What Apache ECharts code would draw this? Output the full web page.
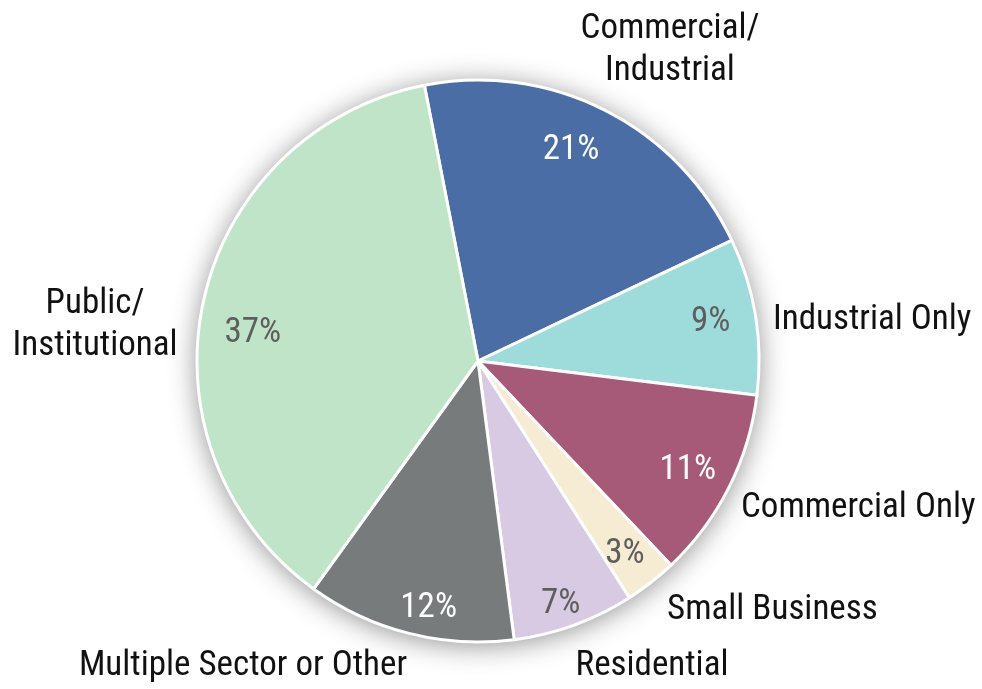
<!DOCTYPE html>
<html><head><meta charset="utf-8">
<script src="https://cdn.jsdelivr.net/npm/echarts@6/dist/echarts.min.js"></script>
<style>html,body{margin:0;padding:0;background:#fff}#c{width:982px;height:689px}</style>
</head><body><div id="c"></div>
<script>
const categories = ['Commercial/\nIndustrial', 'Industrial Only', 'Commercial Only', 'Small Business', 'Residential', 'Multiple Sector or Other', 'Public/\nInstitutional'];
const shares = [21, 9, 11, 3, 7, 12, 37];
const colors = ['#4a6da5', '#9edcdc', '#a65a77', '#f6ecd4', '#d8cae2', '#777b7c', '#bfe4c7'];
const pctColors = ['#ffffff', '#5e5e5e', '#ffffff', '#5e5e5e', '#5e5e5e', '#ffffff', '#5e5e5e'];

const FONT = '"Roboto Condensed", "Liberation Sans Narrow", "Arial Narrow", sans-serif';
const C = [478, 361], R = 281;
// outside label anchors (styling)
const labelPos = [
  {x: 670, y: 50, align: 'center'},
  {x: 773, y: 320, align: 'left'},
  {x: 741, y: 508, align: 'left'},
  {x: 667, y: 610, align: 'left'},
  {x: 652, y: 666, align: 'center'},
  {x: 243, y: 666, align: 'center'},
  {x: 95, y: 325, align: 'center'}
];
// small nudges for percentage labels (styling)
const pctNudge = [[-16, 5], [-6, 0], [-6, 0], [-2, 3], [0, 16], [10, 13], [11, 24]];

const chart = echarts.init(document.getElementById('c'));
chart.setOption({
  animation: false,
  series: [
    { // shadow base
      type: 'pie', center: C, radius: R, silent: true, startAngle: 101,
      label: {show: false}, labelLine: {show: false},
      itemStyle: {color: '#ffffff', shadowBlur: 28, shadowColor: 'rgba(0,0,0,0.45)', shadowOffsetX: 0, shadowOffsetY: 3},
      data: [{value: 1}], z: 1
    },
    {
      type: 'pie', center: C, radius: R, startAngle: 101, clockwise: true, silent: true,
      itemStyle: {borderColor: '#ffffff', borderWidth: 3},
      label: {show: true, position: 'outside', formatter: '{b}', color: '#111', fontFamily: FONT, fontSize: 35, lineHeight: 42, overflow: 'none'},
      labelLine: {show: false},
      labelLayout: function (p) {
        const q = labelPos[p.dataIndex];
        return {x: q.x, y: q.y, align: q.align, verticalAlign: 'middle'};
      },
      data: categories.map((n, i) => ({name: n, value: shares[i], itemStyle: {color: colors[i]}})),
      z: 2
    },
    { // percentage labels
      type: 'pie', center: C, radius: [R * 0.7, R], startAngle: 101, clockwise: true, silent: true,
      itemStyle: {color: 'rgba(0,0,0,0)'},
      labelLine: {show: false},
      label: {show: true, position: 'inside', formatter: '{d}%', fontFamily: FONT, fontSize: 35, overflow: 'none'},
      labelLayout: function (p) {
        const n = pctNudge[p.dataIndex];
        return {dx: n[0], dy: n[1]};
      },
      data: categories.map((n, i) => ({name: n, value: shares[i], label: {color: pctColors[i]}})),
      z: 3
    }
  ]
});
</script></body></html>
